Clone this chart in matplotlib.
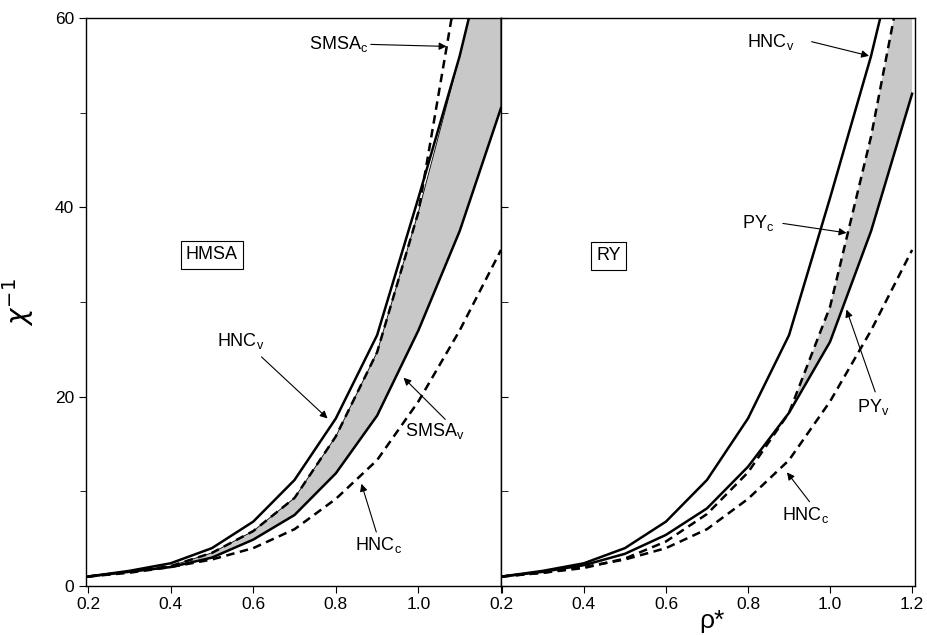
import numpy as np
import matplotlib
matplotlib.use("Agg")
import matplotlib.pyplot as plt

plt.rcParams['font.family'] = ['Liberation Sans', 'DejaVu Sans']

# reduced density
rho = [0.2, 0.3, 0.4, 0.5, 0.6, 0.7, 0.8, 0.9, 1.0, 1.1, 1.2]

# inverse compressibility
hnc_v = [1.0, 1.6, 2.4, 4.0, 6.8, 11.2, 17.7, 26.5, 41.0, 56.0, 74.0]
hnc_c = [1.0, 1.4, 2.0, 2.8, 4.0, 6.0, 9.2, 13.3, 19.5, 27.0, 35.5]
smsa_c = [1.0, 1.5, 2.1, 3.5, 5.8, 9.3, 15.8, 24.7, 39.5, 65.0, 95.0]
smsa_v = [1.0, 1.5, 2.0, 3.0, 4.9, 7.5, 11.9, 18.0, 27.0, 37.5, 50.5]
py_c = [1.0, 1.4, 1.9, 2.9, 4.7, 7.6, 12.0, 18.3, 29.5, 47.5, 70.0]
py_v = [1.0, 1.5, 2.2, 3.4, 5.4, 8.2, 12.6, 18.3, 25.8, 37.5, 52.0]

LW = 1.8
DASH = (3.4, 2.2)
SHADE = '#c8c8c8'

fig = plt.figure(figsize=(9.27, 6.35), dpi=100)
axl = fig.add_axes([86 / 927, 1 - 586 / 635, 415 / 927, 568 / 635])
axr = fig.add_axes([501 / 927, 1 - 586 / 635, 414 / 927, 568 / 635])

x = np.array(rho)

# ---- left panel: HMSA ----
upper = np.minimum(smsa_c, hnc_v)
axl.fill_between(x, smsa_v, upper, facecolor=SHADE, edgecolor='k', lw=0.6, zorder=1)
axl.plot(x, hnc_v, color='k', lw=LW, zorder=3)
axl.plot(x, smsa_v, color='k', lw=LW, zorder=3)
axl.plot(x, smsa_c, color='k', lw=LW, dashes=DASH, zorder=3)
axl.plot(x, hnc_c, color='k', lw=LW, dashes=DASH, zorder=3)

# ---- right panel: RY ----
axr.fill_between(x, py_v, py_c, where=np.array(py_c) >= np.array(py_v),
                 interpolate=True, facecolor=SHADE, edgecolor='none', zorder=1)
axr.plot(x, hnc_v, color='k', lw=LW, zorder=3)
axr.plot(x, py_v, color='k', lw=LW, zorder=3)
axr.plot(x, py_c, color='k', lw=LW, dashes=DASH, zorder=3)
axr.plot(x, hnc_c, color='k', lw=LW, dashes=DASH, zorder=3)

for ax in (axl, axr):
    ax.set_ylim(0, 60)
    ax.set_xticks([0.2, 0.4, 0.6, 0.8, 1.0, 1.2])
    ax.set_yticks([0, 20, 40, 60])
    ax.set_yticks([10, 30, 50], minor=True)
    for s in ax.spines.values():
        s.set_linewidth(1.0)
    ax.tick_params(axis='x', direction='out', length=5, pad=3, labelsize=12.5)

axl.set_xlim(0.195, 1.2)
axr.set_xlim(0.198, 1.207)

axl.set_xticklabels(['0.2', '0.4', '0.6', '0.8', '1.0', ''])
axr.set_xticklabels(['0.2', '0.4', '0.6', '0.8', '1.0', '1.2'])
axl.tick_params(axis='y', which='major', direction='out', length=5, labelsize=12.5)
axl.tick_params(axis='y', which='minor', direction='out', length=4)
axr.tick_params(axis='y', which='both', direction='in', length=5, labelleft=False)

axl.set_ylabel(r'$\chi^{-1}$', fontsize=20, labelpad=14)
fig.text(712 / 927, 1 - 621 / 635, 'ρ*', fontsize=19, ha='center', va='center')

# panel tags
axl.text(0.5, 35.0, 'HMSA', fontsize=13, ha='center', va='center',
         bbox=dict(boxstyle='square,pad=0.3', fc='white', ec='k', lw=0.8))
axr.text(0.46, 34.9, 'RY', fontsize=13, ha='center', va='center',
         bbox=dict(boxstyle='square,pad=0.3', fc='white', ec='k', lw=0.8))

arrow = dict(arrowstyle='-|>', color='k', lw=0.8, mutation_scale=11,
             shrinkA=0, shrinkB=0)
fs = 13

# left annotations
axl.annotate(r'SMSA$_\mathregular{c}$', xy=(1.068, 57.0), xytext=(0.878, 57.3),
             fontsize=fs, ha='right', va='center', arrowprops=arrow)
axl.annotate('', xy=(0.78, 17.7), xytext=(0.62, 24.2), arrowprops=arrow)
axl.text(0.57, 25.9, r'HNC$_\mathregular{v}$', fontsize=fs, ha='center', va='center')
axl.annotate('', xy=(0.964, 22.0), xytext=(1.065, 17.6), arrowprops=arrow)
axl.text(1.04, 16.4, r'SMSA$_\mathregular{v}$', fontsize=fs, ha='center', va='center')
axl.annotate('', xy=(0.862, 10.8), xytext=(0.898, 5.7), arrowprops=arrow)
axl.text(0.903, 4.3, r'HNC$_\mathregular{c}$', fontsize=fs, ha='center', va='center')

# right annotations
axr.annotate('', xy=(1.095, 56.0), xytext=(0.955, 57.5), arrowprops=arrow)
axr.text(0.855, 57.5, r'HNC$_\mathregular{v}$', fontsize=fs, ha='center', va='center')
axr.annotate('', xy=(1.04, 37.3), xytext=(0.885, 38.3), arrowprops=arrow)
axr.text(0.825, 38.3, r'PY$_\mathregular{c}$', fontsize=fs, ha='center', va='center')
axr.annotate('', xy=(1.04, 29.2), xytext=(1.11, 20.5), arrowprops=arrow)
axr.text(1.105, 18.9, r'PY$_\mathregular{v}$', fontsize=fs, ha='center', va='center')
axr.annotate('', xy=(0.895, 12.0), xytext=(0.95, 8.9), arrowprops=arrow)
axr.text(0.94, 7.5, r'HNC$_\mathregular{c}$', fontsize=fs, ha='center', va='center')

fig.savefig('out.png', dpi=100)
